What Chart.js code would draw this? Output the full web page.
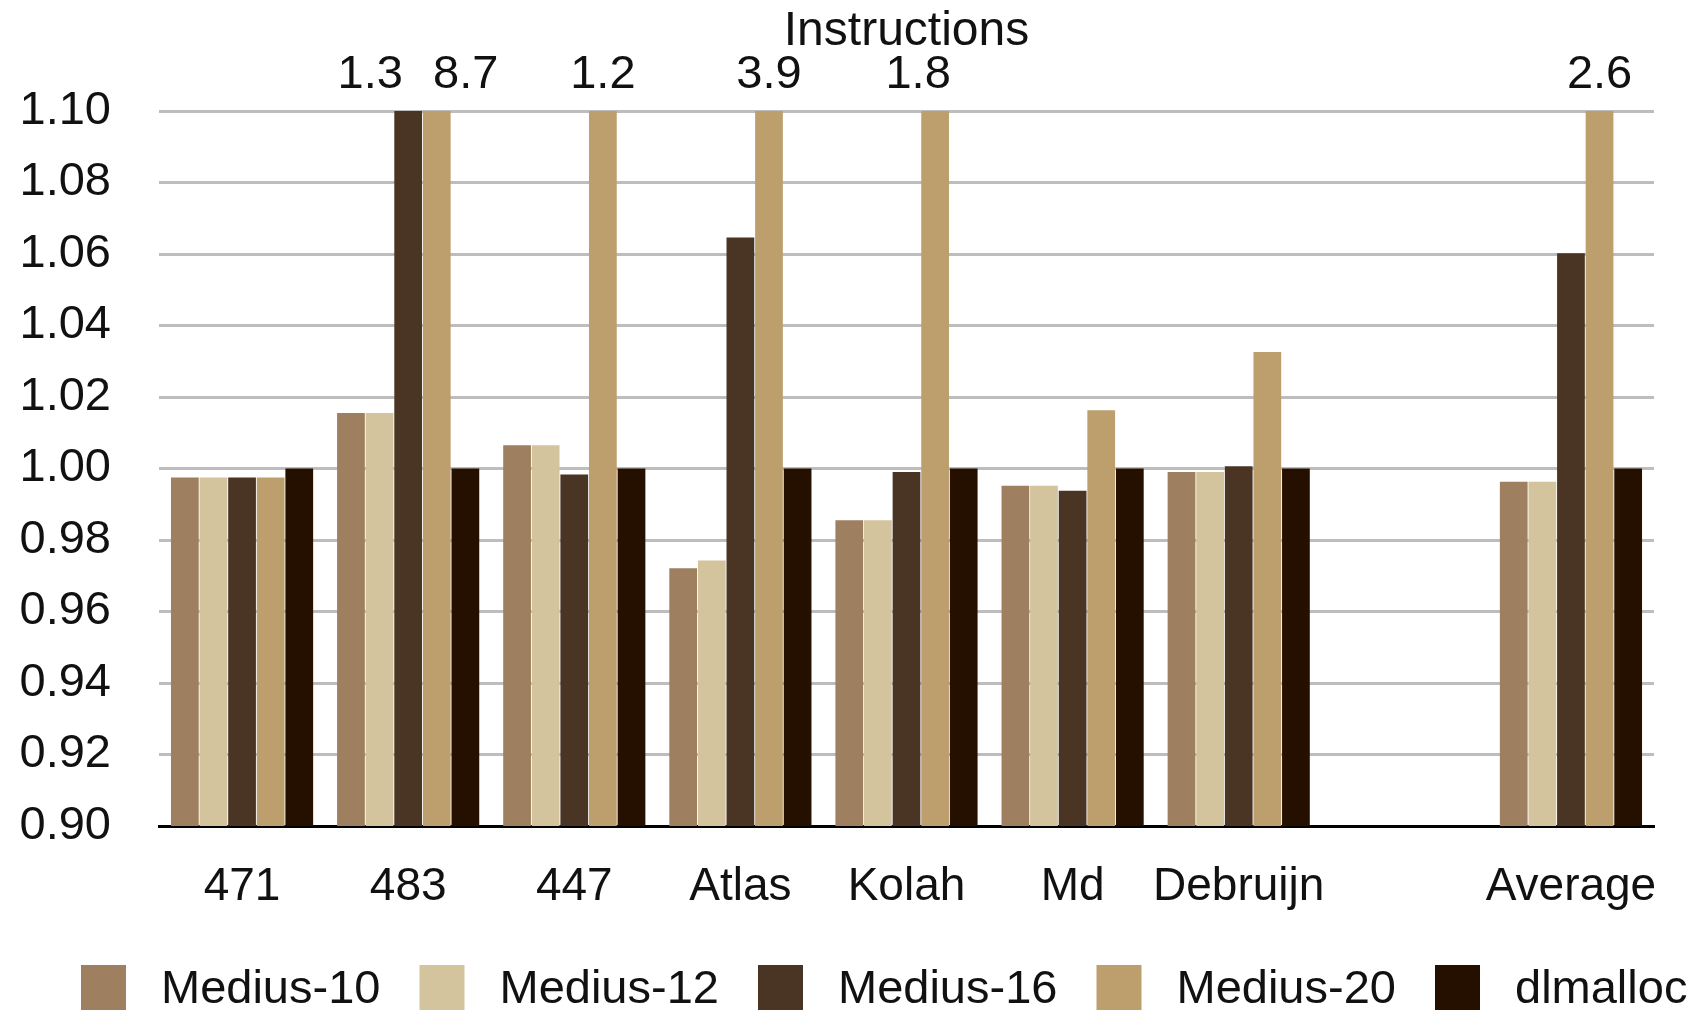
<!DOCTYPE html>
<html>
<head>
<meta charset="utf-8">
<title>Instructions</title>
<script src="https://cdn.jsdelivr.net/npm/chart.js@4/dist/chart.umd.min.js"></script>
<style>
  html, body { margin: 0; padding: 0; background: #ffffff; }
  #wrap { width: 1687px; height: 1010px; overflow: hidden; }
</style>
</head>
<body>
<div id="wrap"><canvas id="chart" width="1687" height="1010"></canvas></div>
<script>
// Benchmarks (the blank slot separates the average from the individual runs)
const categories = ['471', '483', '447', 'Atlas', 'Kolah', 'Md', 'Debruijn', '', 'Average'];

// Normalised instruction counts per allocator
const medius10 = [0.9975, 1.0155, 1.0065, 0.9721, 0.9855, 0.9952, 0.9990, null, 0.9963];
const medius12 = [0.9975, 1.0155, 1.0065, 0.9743, 0.9855, 0.9952, 0.9990, null, 0.9963];
const medius16 = [0.9975, 1.3, 0.9983, 1.0646, 0.9990, 0.9938, 1.0006, null, 1.0602];
const medius20 = [0.9975, 8.7, 1.2, 3.9, 1.8, 1.0163, 1.0326, null, 2.6];
const dlmalloc = [1.0, 1.0, 1.0, 1.0, 1.0, 1.0, 1.0, null, 1.0];

const seriesNames = ['Medius-10', 'Medius-12', 'Medius-16', 'Medius-20', 'dlmalloc'];
const yTicks = [0.90, 0.92, 0.94, 0.96, 0.98, 1.00, 1.02, 1.04, 1.06, 1.08, 1.10];

const colors = ['#9e7f5f', '#d3c49d', '#4a3524', '#bd9f6e', '#251000'];
const FONT = '"Liberation Sans", Arial, sans-serif';
const TEXT = '#111111';

const seriesValues = [medius10, medius12, medius16, medius20, dlmalloc];
const datasets = seriesValues.map((vals, i) => ({
  label: seriesNames[i],
  data: vals,
  backgroundColor: colors[i],
  borderWidth: 0,
  categoryPercentage: 0.861,
  barPercentage: 0.97
}));

// Off-scale bars get their true value printed above the plot
const overflowLabels = {
  id: 'overflowLabels',
  afterDatasetsDraw(chart, args, opts) {
    const { ctx } = chart;
    const yMax = chart.scales.y.max;
    ctx.save();
    ctx.font = opts.font;
    ctx.fillStyle = TEXT;
    ctx.textAlign = 'center';
    ctx.textBaseline = 'middle';
    chart.data.datasets.forEach((ds, di) => {
      const meta = chart.getDatasetMeta(di);
      ds.data.forEach((v, idx) => {
        if (v == null || v <= yMax) return;
        const bar = meta.data[idx];
        const nudge = (opts.nudge[di + ':' + idx]) || 0;
        ctx.fillText(String(v), bar.x + nudge, opts.y);
      });
    });
    ctx.restore();
  }
};

// Title and legend row drawn in fixed slots
const decorations = {
  id: 'decorations',
  afterDraw(chart, args, opts) {
    const { ctx, chartArea } = chart;
    ctx.save();
    ctx.fillStyle = TEXT;
    ctx.font = opts.titleFont;
    ctx.textAlign = 'center';
    ctx.textBaseline = 'middle';
    ctx.fillText(opts.title, (chartArea.left + chartArea.right) / 2, opts.titleY);

    ctx.font = opts.legendFont;
    ctx.textAlign = 'left';
    chart.data.datasets.forEach((ds, i) => {
      const x = opts.legendX + i * opts.legendStep;
      ctx.fillStyle = ds.backgroundColor;
      ctx.fillRect(x, opts.legendBoxTop, opts.legendBox, opts.legendBox + 10);
      ctx.fillStyle = TEXT;
      ctx.fillText(ds.label, x + opts.legendTextGap, opts.legendY);
    });
    ctx.restore();
  }
};

new Chart(document.getElementById('chart'), {
  type: 'bar',
  data: { labels: categories, datasets },
  plugins: [overflowLabels, decorations],
  options: {
    responsive: false,
    devicePixelRatio: 1,
    animation: false,
    layout: { padding: { left: 0, top: 111, right: 33, bottom: 0 } },
    plugins: {
      legend: { display: false },
      title: { display: false },
      tooltip: { enabled: false },
      overflowLabels: {
        font: '47px ' + FONT,
        y: 75,
        nudge: { '2:1': -38, '3:1': 29, '3:4': -17 }
      },
      decorations: {
        title: 'Instructions',
        titleFont: '48px ' + FONT,
        titleY: 32,
        legendFont: '47px ' + FONT,
        legendX: 81,
        legendStep: 338.5,
        legendBox: 45,
        legendBoxTop: 965,
        legendTextGap: 80,
        legendY: 990
      }
    },
    scales: {
      x: {
        grid: { display: false, drawTicks: false },
        border: { display: true, color: '#000000', width: 3 },
        ticks: {
          color: TEXT,
          font: { family: FONT, size: 46 },
          padding: 34,
          maxRotation: 0,
          autoSkip: false
        },
        afterFit(scale) {
          scale.height = 184;
          scale.paddingLeft = 0;
          scale.paddingRight = 0;
        }
      },
      y: {
        min: yTicks[0],
        max: yTicks[yTicks.length - 1],
        afterBuildTicks(scale) { scale.ticks = yTicks.map(v => ({ value: v })); },
        grid: {
          drawTicks: false,
          lineWidth: 3,
          color: c => (c.tick && c.tick.value <= yTicks[0] + 1e-9) ? '#000000' : '#bdbdbd'
        },
        border: { display: false },
        ticks: {
          color: TEXT,
          font: { family: FONT, size: 47 },
          padding: 48,
          callback: v => Number(v).toFixed(2)
        },
        afterFit(scale) {
          scale.width = 159;
          scale.paddingTop = 0;
          scale.paddingBottom = 0;
        }
      }
    }
  }
});
</script>
</body>
</html>
